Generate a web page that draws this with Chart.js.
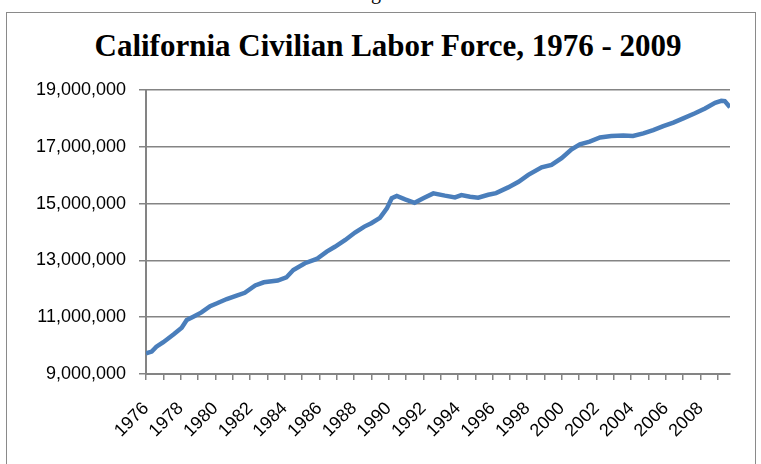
<!DOCTYPE html>
<html>
<head>
<meta charset="utf-8">
<script src="https://cdn.jsdelivr.net/npm/chart.js@4"></script>
<style>
  html, body { margin: 0; padding: 0; background: #fff; overflow: hidden; }
  #figure { position: absolute; left: 0; top: -19px; width: 776px; text-align: center; font: 20px "Liberation Serif"; color: #000; }
  #frame { position: absolute; left: 6px; top: 12px; width: 748px; height: 470px; border: 1px solid #8a8a8a; }
  #title { position: absolute; left: 0; top: 29px; width: 776px; text-align: center; font: bold 31px/34px "Liberation Serif"; color: #000; white-space: nowrap; }
  #wrap { position: absolute; left: 0; top: 0; width: 761px; height: 464px; }
</style>
</head>
<body>
<div id="figure">Figure 1</div>
<div id="frame"></div>
<div id="title">California Civilian Labor Force, 1976 - 2009</div>
<div id="wrap"><canvas id="graph"></canvas></div>
<script>
// fractional year, labor force
const years = [
  1976.0, 1976.33, 1976.6, 1977.0, 1977.6, 1978.06, 1978.35, 1978.73, 1979.2, 1979.7,
  1980.1, 1980.66, 1981.23, 1981.7, 1982.3, 1982.8, 1983.6, 1984.1, 1984.5, 1985.17,
  1985.85, 1986.43, 1986.9, 1987.5, 1988.06, 1988.6, 1989.0, 1989.5, 1989.9, 1990.18,
  1990.47, 1990.95, 1991.5, 1992.0, 1992.58, 1993.25, 1993.83, 1994.2, 1994.7, 1995.17,
  1995.75, 1996.2, 1996.9, 1997.5, 1998.06, 1998.83, 1999.4, 1999.98, 2000.56, 2001.04,
  2001.6, 2002.2, 2002.85, 2003.54, 2004.1, 2004.7, 2005.27, 2005.85, 2006.43, 2007.0,
  2007.68, 2008.26, 2008.84, 2009.2, 2009.4, 2009.7
];
const laborForce = [
  9730000, 9790000, 9960000, 10120000, 10400000, 10630000, 10900000, 11020000, 11170000, 11390000,
  11490000, 11640000, 11760000, 11860000, 12120000, 12230000, 12290000, 12400000, 12660000, 12900000,
  13050000, 13310000, 13480000, 13720000, 13980000, 14190000, 14310000, 14500000, 14830000, 15190000,
  15270000, 15150000, 15030000, 15190000, 15360000, 15280000, 15220000, 15300000, 15240000, 15210000,
  15310000, 15370000, 15570000, 15770000, 16010000, 16280000, 16360000, 16600000, 16910000, 17090000,
  17180000, 17330000, 17380000, 17400000, 17380000, 17470000, 17590000, 17730000, 17850000, 18000000,
  18180000, 18350000, 18550000, 18620000, 18610000, 18390000
];
const yTicks = [9000000, 11000000, 13000000, 15000000, 17000000, 19000000];
const tickYears = [];
for (let y = 1976; y <= 2009; y++) tickYears.push(y);
const labelYears = tickYears.filter(y => y % 2 === 0);

const AXIS = "#848484";

window.onload = function () {
  const ctx = document.getElementById("graph").getContext("2d");

  const config = {
    type: "line",
    data: {
      datasets: [{
        label: "Civilian Labor Force",
        borderColor: "#4a7ebb",
        backgroundColor: "#4a7ebb",
        borderWidth: 4.5,
        data: years.map((x, i) => ({ x: x, y: laborForce[i] }))
      }]
    },
    options: {
      animation: false,
      responsive: true,
      maintainAspectRatio: false,
      layout: { padding: { left: 14, right: 31, top: 90, bottom: 0 } },
      elements: { point: { radius: 0 }, line: { tension: 0 } },
      plugins: {
        legend: { display: false },
        tooltip: { enabled: false },
        title: { display: false }
      },
      scales: {
        x: {
          type: "linear",
          min: 1976,
          max: 2009.7,
          afterBuildTicks: (scale) => { scale.ticks = tickYears.map(v => ({ value: v })); },
          afterFit: (scale) => { scale.height = 90; },
          grid: { drawOnChartArea: false, drawTicks: true, tickLength: 6, color: AXIS, lineWidth: 1.5 },
          border: { color: AXIS, width: 2 },
          ticks: {
            autoSkip: false,
            maxRotation: 45,
            minRotation: 45,
            padding: 18,
            color: "#000",
            font: { family: "Liberation Sans", size: 18 },
            callback: (v) => labelYears.includes(v) ? String(v) : ""
          }
        },
        y: {
          min: 9000000,
          max: 19000000,
          afterBuildTicks: (scale) => { scale.ticks = yTicks.map(v => ({ value: v })); },
          afterFit: (scale) => { scale.width = 132; },
          grid: { color: AXIS, lineWidth: 1.5, tickLength: 7 },
          border: { color: AXIS, width: 2 },
          ticks: {
            padding: 13,
            color: "#000",
            font: { family: "Liberation Sans", size: 18 },
            callback: (v) => v.toLocaleString("en-US")
          }
        }
      }
    }
  };

  new Chart(ctx, config);
};
</script>
</body>
</html>
